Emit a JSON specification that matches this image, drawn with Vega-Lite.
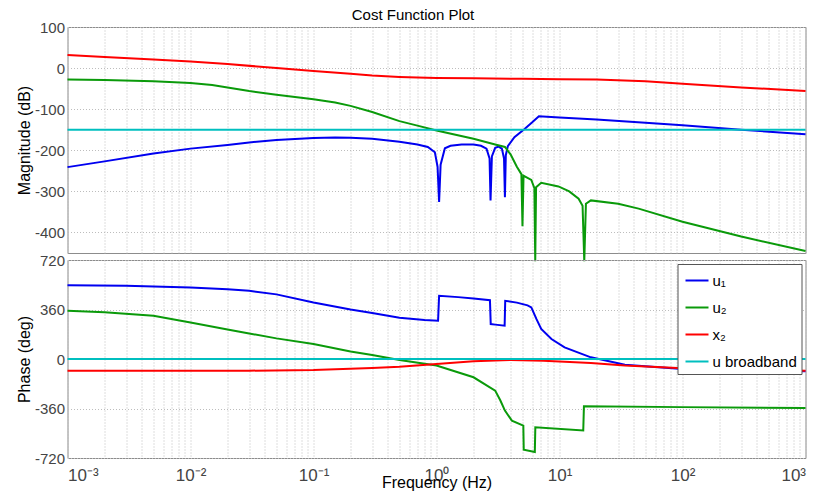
{
  "$schema": "https://vega.github.io/schema/vega-lite/v6.json",
  "autosize": {"type": "pad"},
  "padding": {"left": 15.5, "top": 7, "right": 11, "bottom": 4},
  "background": "white",
  "title": {"text": "Cost Function Plot", "fontSize": 15, "fontWeight": "normal", "font": "Liberation Sans", "color": "#000000", "offset": -3.3, "anchor": "middle"},
  "spacing": 7,
  "bounds": "flush",
  "config": {
    "view": {"stroke": "#8c8c8c", "strokeWidth": 1},
    "axis": {
      "labelFont": "Liberation Sans", "labelFontSize": 15, "labelColor": "#444444",
      "titleFont": "Liberation Sans", "titleFontSize": 16, "titleFontWeight": "normal", "titleColor": "#000000",
      "gridColor": "#bdbdbd", "gridDash": [1, 2], "gridWidth": 1,
      "domain": false, "ticks": false, "labelPadding": 3
    },
    "line": {"strokeWidth": 2, "clip": true}
  },
  "datasets": {
    "mag": [
      {"s": "u₁", "f": 0.001, "v": -241}, {"s": "u₁", "f": 0.002, "v": -227}, {"s": "u₁", "f": 0.005, "v": -208},
      {"s": "u₁", "f": 0.01, "v": -196}, {"s": "u₁", "f": 0.02, "v": -187}, {"s": "u₁", "f": 0.03, "v": -181},
      {"s": "u₁", "f": 0.05, "v": -175}, {"s": "u₁", "f": 0.1, "v": -170}, {"s": "u₁", "f": 0.15, "v": -169}, {"s": "u₁", "f": 0.2, "v": -169.5},
      {"s": "u₁", "f": 0.3, "v": -172}, {"s": "u₁", "f": 0.5, "v": -179}, {"s": "u₁", "f": 0.7, "v": -186},
      {"s": "u₁", "f": 0.85, "v": -192}, {"s": "u₁", "f": 0.97, "v": -205}, {"s": "u₁", "f": 1.02, "v": -240},
      {"s": "u₁", "f": 1.05, "v": -326}, {"s": "u₁", "f": 1.08, "v": -235}, {"s": "u₁", "f": 1.17, "v": -195},
      {"s": "u₁", "f": 1.3, "v": -189}, {"s": "u₁", "f": 1.6, "v": -186}, {"s": "u₁", "f": 2.0, "v": -186},
      {"s": "u₁", "f": 2.3, "v": -189}, {"s": "u₁", "f": 2.55, "v": -196}, {"s": "u₁", "f": 2.7, "v": -220},
      {"s": "u₁", "f": 2.75, "v": -322}, {"s": "u₁", "f": 2.82, "v": -215}, {"s": "u₁", "f": 3.0, "v": -194},
      {"s": "u₁", "f": 3.2, "v": -191}, {"s": "u₁", "f": 3.4, "v": -196}, {"s": "u₁", "f": 3.54, "v": -220},
      {"s": "u₁", "f": 3.6, "v": -314}, {"s": "u₁", "f": 3.66, "v": -212}, {"s": "u₁", "f": 3.8, "v": -190},
      {"s": "u₁", "f": 4.3, "v": -168}, {"s": "u₁", "f": 5.2, "v": -148}, {"s": "u₁", "f": 6.0, "v": -132},
      {"s": "u₁", "f": 6.8, "v": -117}, {"s": "u₁", "f": 10, "v": -120}, {"s": "u₁", "f": 20, "v": -125},
      {"s": "u₁", "f": 50, "v": -133}, {"s": "u₁", "f": 100, "v": -139}, {"s": "u₁", "f": 300, "v": -150},
      {"s": "u₁", "f": 1000, "v": -161},

      {"s": "u₂", "f": 0.001, "v": -28}, {"s": "u₂", "f": 0.002, "v": -29}, {"s": "u₂", "f": 0.005, "v": -32},
      {"s": "u₂", "f": 0.01, "v": -36}, {"s": "u₂", "f": 0.015, "v": -41}, {"s": "u₂", "f": 0.02, "v": -47}, {"s": "u₂", "f": 0.03, "v": -56},
      {"s": "u₂", "f": 0.05, "v": -65}, {"s": "u₂", "f": 0.1, "v": -76}, {"s": "u₂", "f": 0.15, "v": -84}, {"s": "u₂", "f": 0.2, "v": -92},
      {"s": "u₂", "f": 0.3, "v": -107}, {"s": "u₂", "f": 0.5, "v": -129}, {"s": "u₂", "f": 0.7, "v": -140},
      {"s": "u₂", "f": 1.0, "v": -152}, {"s": "u₂", "f": 2.0, "v": -172}, {"s": "u₂", "f": 3.0, "v": -186},
      {"s": "u₂", "f": 3.6, "v": -192}, {"s": "u₂", "f": 4.0, "v": -210}, {"s": "u₂", "f": 4.5, "v": -240},
      {"s": "u₂", "f": 4.9, "v": -258}, {"s": "u₂", "f": 5.0, "v": -385}, {"s": "u₂", "f": 5.1, "v": -262},
      {"s": "u₂", "f": 5.4, "v": -266}, {"s": "u₂", "f": 5.9, "v": -272}, {"s": "u₂", "f": 6.25, "v": -292},
      {"s": "u₂", "f": 6.35, "v": -470}, {"s": "u₂", "f": 6.45, "v": -290}, {"s": "u₂", "f": 7.1, "v": -279},
      {"s": "u₂", "f": 9.8, "v": -288}, {"s": "u₂", "f": 12, "v": -300}, {"s": "u₂", "f": 14.3, "v": -318},
      {"s": "u₂", "f": 15.4, "v": -335}, {"s": "u₂", "f": 15.9, "v": -470}, {"s": "u₂", "f": 16.4, "v": -330},
      {"s": "u₂", "f": 18, "v": -322}, {"s": "u₂", "f": 30, "v": -330}, {"s": "u₂", "f": 44, "v": -342},
      {"s": "u₂", "f": 100, "v": -374}, {"s": "u₂", "f": 300, "v": -410}, {"s": "u₂", "f": 1000, "v": -445},

      {"s": "x₂", "f": 0.001, "v": 32}, {"s": "x₂", "f": 0.002, "v": 27}, {"s": "x₂", "f": 0.005, "v": 21},
      {"s": "x₂", "f": 0.01, "v": 16}, {"s": "x₂", "f": 0.02, "v": 10}, {"s": "x₂", "f": 0.05, "v": 0},
      {"s": "x₂", "f": 0.1, "v": -7}, {"s": "x₂", "f": 0.2, "v": -14}, {"s": "x₂", "f": 0.3, "v": -18}, {"s": "x₂", "f": 0.5, "v": -21.5},
      {"s": "x₂", "f": 0.7, "v": -23}, {"s": "x₂", "f": 1, "v": -24}, {"s": "x₂", "f": 2, "v": -25}, {"s": "x₂", "f": 5, "v": -26},
      {"s": "x₂", "f": 10, "v": -27}, {"s": "x₂", "f": 20, "v": -28}, {"s": "x₂", "f": 50, "v": -32},
      {"s": "x₂", "f": 100, "v": -38}, {"s": "x₂", "f": 300, "v": -47}, {"s": "x₂", "f": 1000, "v": -56},

      {"s": "u broadband", "f": 0.001, "v": -150}, {"s": "u broadband", "f": 1000, "v": -150}
    ],
    "phase": [
      {"s": "u₁", "f": 0.001, "v": 537}, {"s": "u₁", "f": 0.003, "v": 532}, {"s": "u₁", "f": 0.01, "v": 520},
      {"s": "u₁", "f": 0.02, "v": 508}, {"s": "u₁", "f": 0.03, "v": 496}, {"s": "u₁", "f": 0.05, "v": 470}, {"s": "u₁", "f": 0.1, "v": 411},
      {"s": "u₁", "f": 0.2, "v": 360}, {"s": "u₁", "f": 0.3, "v": 335}, {"s": "u₁", "f": 0.5, "v": 300},
      {"s": "u₁", "f": 0.8, "v": 283}, {"s": "u₁", "f": 1.03, "v": 278}, {"s": "u₁", "f": 1.05, "v": 460},
      {"s": "u₁", "f": 1.5, "v": 450}, {"s": "u₁", "f": 2.0, "v": 440}, {"s": "u₁", "f": 2.72, "v": 428},
      {"s": "u₁", "f": 2.76, "v": 254}, {"s": "u₁", "f": 3.0, "v": 250}, {"s": "u₁", "f": 3.58, "v": 242},
      {"s": "u₁", "f": 3.62, "v": 423}, {"s": "u₁", "f": 4.5, "v": 410}, {"s": "u₁", "f": 5.5, "v": 390},
      {"s": "u₁", "f": 5.9, "v": 375}, {"s": "u₁", "f": 6.5, "v": 290}, {"s": "u₁", "f": 7.1, "v": 218},
      {"s": "u₁", "f": 8.6, "v": 145}, {"s": "u₁", "f": 11, "v": 85}, {"s": "u₁", "f": 18, "v": 12},
      {"s": "u₁", "f": 34, "v": -41}, {"s": "u₁", "f": 100, "v": -73}, {"s": "u₁", "f": 300, "v": -85},
      {"s": "u₁", "f": 1000, "v": -89},

      {"s": "u₂", "f": 0.001, "v": 351}, {"s": "u₂", "f": 0.002, "v": 340}, {"s": "u₂", "f": 0.005, "v": 315},
      {"s": "u₂", "f": 0.01, "v": 266}, {"s": "u₂", "f": 0.02, "v": 215}, {"s": "u₂", "f": 0.03, "v": 186},
      {"s": "u₂", "f": 0.05, "v": 150}, {"s": "u₂", "f": 0.1, "v": 109}, {"s": "u₂", "f": 0.2, "v": 55},
      {"s": "u₂", "f": 0.3, "v": 29}, {"s": "u₂", "f": 0.5, "v": -7}, {"s": "u₂", "f": 1.0, "v": -48},
      {"s": "u₂", "f": 2.0, "v": -133}, {"s": "u₂", "f": 3.0, "v": -230}, {"s": "u₂", "f": 3.3, "v": -300},
      {"s": "u₂", "f": 3.6, "v": -375}, {"s": "u₂", "f": 4.1, "v": -448}, {"s": "u₂", "f": 5.08, "v": -484},
      {"s": "u₂", "f": 5.12, "v": -660}, {"s": "u₂", "f": 6.3, "v": -677}, {"s": "u₂", "f": 6.36, "v": -496},
      {"s": "u₂", "f": 15.6, "v": -520}, {"s": "u₂", "f": 15.8, "v": -343}, {"s": "u₂", "f": 100, "v": -350},
      {"s": "u₂", "f": 1000, "v": -356},

      {"s": "x₂", "f": 0.001, "v": -85}, {"s": "x₂", "f": 0.03, "v": -85}, {"s": "x₂", "f": 0.1, "v": -80},
      {"s": "x₂", "f": 0.3, "v": -65}, {"s": "x₂", "f": 0.5, "v": -56}, {"s": "x₂", "f": 1, "v": -36},
      {"s": "x₂", "f": 2, "v": -17}, {"s": "x₂", "f": 4, "v": -7}, {"s": "x₂", "f": 7.4, "v": -12},
      {"s": "x₂", "f": 18, "v": -29}, {"s": "x₂", "f": 34, "v": -48}, {"s": "x₂", "f": 100, "v": -68},
      {"s": "x₂", "f": 1000, "v": -85},

      {"s": "u broadband", "f": 0.001, "v": 0}, {"s": "u broadband", "f": 1000, "v": 0}
    ]
  },
  "resolve": {"legend": {"color": "independent"}},
  "vconcat": [
    {
      "width": 738, "height": 226,
      "data": {"name": "mag"},
      "mark": {"type": "line"},
      "encoding": {
        "x": {"field": "f", "type": "quantitative",
          "scale": {"type": "log", "domain": [0.001, 1000], "nice": false},
          "axis": {"labels": false, "title": null, "grid": true,
            "values": [0.001,0.002,0.003,0.004,0.005,0.006,0.007,0.008,0.009,0.01,0.02,0.03,0.04,0.05,0.06,0.07,0.08,0.09,0.1,0.2,0.3,0.4,0.5,0.6,0.7,0.8,0.9,1,2,3,4,5,6,7,8,9,10,20,30,40,50,60,70,80,90,100,200,300,400,500,600,700,800,900,1000]}},
        "y": {"field": "v", "type": "quantitative",
          "scale": {"domain": [-450, 100], "nice": false, "zero": false},
          "axis": {"title": "Magnitude (dB)", "values": [-400, -300, -200, -100, 0, 100], "titlePadding": 2, "labelExpr": "'' + datum.value"}},
        "color": {"field": "s", "type": "nominal",
          "scale": {"domain": ["u₁", "u₂", "x₂", "u broadband"], "range": ["#0000f0", "#0a9a0a", "#ff0000", "#00bfbf"]},
          "legend": null},
        "order": {"field": "f", "type": "quantitative"}
      }
    },
    {
      "width": 738, "height": 198,
      "data": {"name": "phase"},
      "mark": {"type": "line"},
      "encoding": {
        "x": {"field": "f", "type": "quantitative",
          "scale": {"type": "log", "domain": [0.001, 1000], "nice": false},
          "axis": {"title": "Frequency  (Hz)", "grid": true, "labelOverlap": false, "labelFontSize": 17, "titlePadding": -9, "titleFontSize": 16, "labelPadding": 9,
            "values": [0.001,0.002,0.003,0.004,0.005,0.006,0.007,0.008,0.009,0.01,0.02,0.03,0.04,0.05,0.06,0.07,0.08,0.09,0.1,0.2,0.3,0.4,0.5,0.6,0.7,0.8,0.9,1,2,3,4,5,6,7,8,9,10,20,30,40,50,60,70,80,90,100,200,300,400,500,600,700,800,900,1000],
            "labelExpr": "datum.value == 0.001 ? '10⁻³' : datum.value == 0.01 ? '10⁻²' : datum.value == 0.1 ? '10⁻¹' : datum.value == 1 ? '10⁰' : datum.value == 10 ? '10¹' : datum.value == 100 ? '10²' : datum.value == 1000 ? '10³' : ''"}},
        "y": {"field": "v", "type": "quantitative",
          "scale": {"domain": [-720, 720], "nice": false, "zero": false},
          "axis": {"title": "Phase (deg)", "values": [-720, -360, 0, 360, 720], "titlePadding": 2, "labelExpr": "'' + datum.value"}},
        "color": {"field": "s", "type": "nominal",
          "scale": {"domain": ["u₁", "u₂", "x₂", "u broadband"], "range": ["#0000f0", "#0a9a0a", "#ff0000", "#00bfbf"]},
          "legend": {"title": null, "orient": "none", "legendX": 610, "legendY": 4,
            "symbolType": "stroke", "symbolSize": 529, "symbolStrokeWidth": 2,
            "labelFont": "Liberation Sans", "labelFontSize": 15, "labelColor": "#000000", "labelOffset": 3,
            "padding": 4, "symbolOffset": 3, "rowPadding": 6,
            "fillColor": "white", "strokeColor": "#555555"}},
        "order": {"field": "f", "type": "quantitative"}
      }
    }
  ]
}
